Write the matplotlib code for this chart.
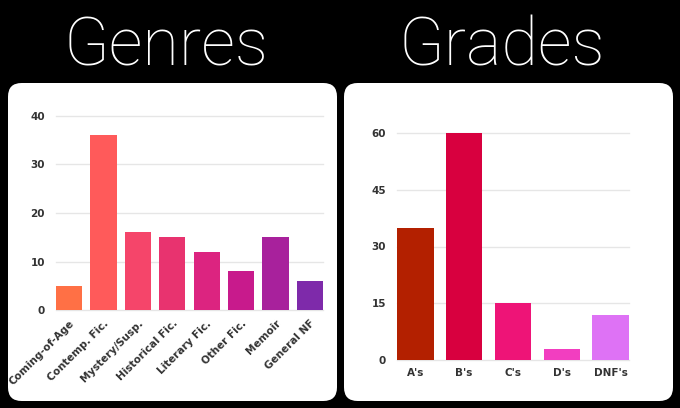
import matplotlib.pyplot as plt
from matplotlib.patches import FancyBboxPatch

# genres read
genres = ['Coming-of-Age', 'Contemp. Fic.', 'Mystery/Susp.', 'Historical Fic.',
          'Literary Fic.', 'Other Fic.', 'Memoir', 'General NF']
genre_counts = [5, 36, 16, 15, 12, 8, 15, 6]
genre_colors = ['#FF7045', '#FF5A5A', '#F5456A', '#E8336F',
                '#DC2480', '#C81A8C', '#A8219C', '#7E2AAA']

# grades
grades = ["A's", "B's", "C's", "D's", "DNF's"]
grade_counts = [35, 60, 15, 3, 12]
grade_colors = ['#B32000', '#D8003F', '#EE1477', '#F23EC0', '#DE72F5']

W, H = 680, 408
fig = plt.figure(figsize=(6.8, 4.08), dpi=100, facecolor='black')

# white rounded panels
for x0, x1 in [(8, 337), (344, 673)]:
    p = FancyBboxPatch((x0 / W, 1 - 401 / H), (x1 - x0) / W, (401 - 83) / H,
                       boxstyle='round,pad=0,rounding_size=0.02',
                       transform=fig.transFigure, facecolor='white',
                       edgecolor='none', mutation_aspect=W / H, zorder=-5)
    fig.patches.append(p)

title_font = dict(color='white', fontsize=48, family='Roboto', fontweight='light',
                  ha='center', va='baseline')
fig.text(166 / W, 1 - 65 / H, 'Genres', **title_font)
fig.text(502 / W, 1 - 65 / H, 'Grades', **title_font)

tick_font = dict(family='DejaVu Sans', fontweight='bold', color='#333333', fontsize=7.5)


def style(ax):
    ax.set_facecolor('none')
    for s in ax.spines.values():
        s.set_visible(False)
    ax.tick_params(length=0)
    ax.yaxis.grid(True, color='#E6E6E6', linewidth=1)
    ax.set_axisbelow(True)
    for g in ax.get_ygridlines():
        g.set_clip_on(False)


# left chart
ax1 = fig.add_axes([56 / W, 1 - 310 / H, (323 - 56) / W, (310 - 116) / H])
x = range(len(genres))
ax1.bar(x, genre_counts, width=0.76, color=genre_colors)
ax1.set_xlim(-0.38, len(genres) - 1 + 0.38)
ax1.set_ylim(0, 40)
ax1.set_yticks([0, 10, 20, 30, 40])
ax1.set_xticks(list(x))
ax1.set_xticklabels(genres, rotation=45, ha='right', rotation_mode='anchor')
style(ax1)
ax1.tick_params(axis='y', pad=8)
ax1.tick_params(axis='x', pad=6)
for lab in ax1.get_xticklabels() + ax1.get_yticklabels():
    lab.set(**tick_font)

# right chart
ax2 = fig.add_axes([397 / W, 1 - 360 / H, (629 - 397) / W, (360 - 133) / H])
x2 = range(len(grades))
ax2.bar(x2, grade_counts, width=0.75, color=grade_colors)
ax2.set_xlim(-0.375, len(grades) - 1 + 0.375)
ax2.set_ylim(0, 60)
ax2.set_yticks([0, 15, 30, 45, 60])
ax2.set_xticks(list(x2))
ax2.set_xticklabels(grades)
style(ax2)
ax2.tick_params(axis='y', pad=8)
ax2.tick_params(axis='x', pad=6)
for lab in ax2.get_xticklabels() + ax2.get_yticklabels():
    lab.set(**tick_font)

fig.savefig('out.png', dpi=100, facecolor='black')
